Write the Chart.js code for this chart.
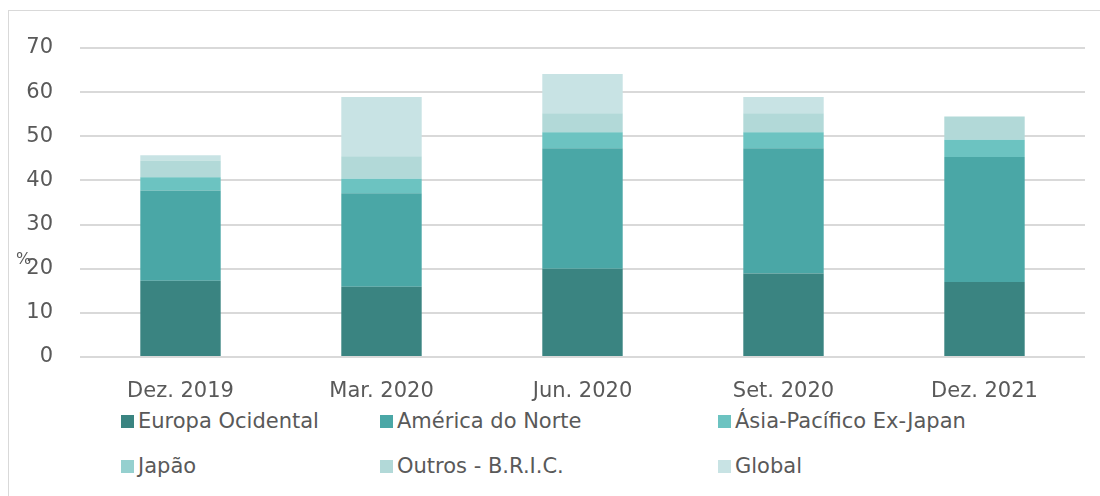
<!DOCTYPE html>
<html>
<head>
<meta charset="utf-8">
<script src="https://cdn.jsdelivr.net/npm/chart.js@4"></script>
<style>
    body { margin: 0; background: #fff; width: 1100px; height: 496px; overflow: hidden; position: relative; font-family: "DejaVu Sans", sans-serif; }
    #frame { position: absolute; left: 8px; top: 10px; width: 1110px; height: 500px; border: 1px solid #d9d9d9; box-sizing: border-box; }
    #wrap { position: absolute; left: 0; top: 0; width: 1100px; height: 401px; }
    #legend { position: absolute; left: 0; top: 0; }
    .item { position: absolute; display: flex; align-items: center; color: #595959; font-size: 21px; white-space: nowrap; }
    .item .box { width: 13px; height: 13px; margin-right: 4px; }
</style>
</head>
<body>
<div id="frame"></div>
<div id="wrap"><canvas id="mainChart"></canvas></div>
<div id="legend"></div>
<script>
    // values (%)
    const categories = ['Dez. 2019', 'Mar. 2020', 'Jun. 2020', 'Set. 2020', 'Dez. 2021'];
    const europa   = [17.3, 15.9, 20.0, 18.9, 17.0];
    const america  = [20.4, 21.2, 27.3, 28.4, 28.3];
    const asia     = [3.0, 3.3, 3.6, 3.6, 3.9];
    const japao    = [0, 0, 0, 0, 0];
    const outros   = [3.8, 5.1, 4.3, 4.3, 5.3];
    const global   = [1.2, 13.4, 8.9, 3.7, 0];
    const yTicks   = [0, 10, 20, 30, 40, 50, 60, 70];

    const series = [
        { label: 'Europa Ocidental', data: europa, color: '#3a8481' },
        { label: 'América do Norte', data: america, color: '#4aa7a6' },
        { label: 'Ásia-Pacífico Ex-Japan', data: asia, color: '#6cc3c1' },
        { label: 'Japão', data: japao, color: '#95d0cf' },
        { label: 'Outros - B.R.I.C.', data: outros, color: '#b2d9d8' },
        { label: 'Global', data: global, color: '#c8e3e4' }
    ];

    // legend slots like the original (3 columns, 2 rows)
    const legendX = [121, 380, 718];
    const legendY = [421, 466];

    const pctLabel = {
        id: 'pctLabel',
        afterDraw(chart) {
            const c = chart.ctx;
            c.save();
            c.font = '16px "DejaVu Sans"';
            c.fillStyle = '#595959';
            c.textBaseline = 'middle';
            c.fillText('%', 16, chart.scales.y.getPixelForValue(22));
            c.restore();
        }
    };

    const ctx = document.getElementById('mainChart').getContext('2d');
    const chart = new Chart(ctx, {
        type: 'bar',
        data: {
            labels: categories,
            datasets: series.map(s => ({
                label: s.label,
                data: s.data,
                backgroundColor: s.color,
                borderWidth: 0,
                barPercentage: 0.8,
                categoryPercentage: 0.5
            }))
        },
        options: {
            responsive: true,
            maintainAspectRatio: false,
            animation: false,
            layout: { padding: { top: 48, right: 15, left: 0, bottom: 0 } },
            plugins: { legend: { display: false }, tooltip: { enabled: false } },
            scales: {
                x: {
                    stacked: true,
                    grid: { display: false },
                    border: { display: false },
                    ticks: { color: '#595959', font: { size: 21, family: 'DejaVu Sans' }, padding: 14 },
                    afterFit(scale) { scale.height = 44; }
                },
                y: {
                    stacked: true,
                    min: 0, max: 70,
                    afterBuildTicks(scale) { scale.ticks = yTicks.map(v => ({ value: v })); },
                    grid: { color: '#d9d9d9', lineWidth: 2, drawTicks: false },
                    border: { display: false },
                    ticks: { color: '#595959', font: { size: 21, family: 'DejaVu Sans' }, padding: 27 },
                    afterFit(scale) { scale.width = 80; }
                }
            }
        },
        plugins: [pctLabel]
    });

    // HTML legend built from the datasets
    const legend = document.getElementById('legend');
    chart.data.datasets.forEach((ds, i) => {
        const el = document.createElement('div');
        el.className = 'item';
        el.style.left = legendX[i % 3] + 'px';
        el.style.top = (legendY[Math.floor(i / 3)] - 13) + 'px';
        el.style.height = '26px';
        el.innerHTML = `<span class="box" style="background:${ds.backgroundColor}"></span>${ds.label}`;
        legend.appendChild(el);
    });
</script>
</body>
</html>
